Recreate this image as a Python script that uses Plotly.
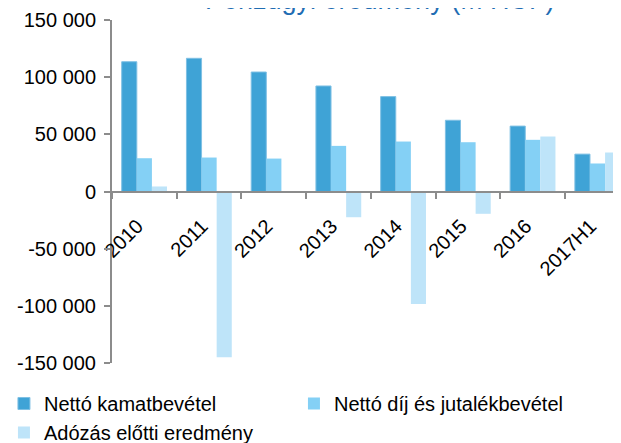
import plotly.graph_objects as go

# data (M HUF)
evek = ['2010', '2011', '2012', '2013', '2014', '2015', '2016', '2017H1']
kamatbevetel = [113500, 116500, 104500, 92300, 83000, 62300, 57200, 32700]
dijbevetel = [29100, 29700, 28800, 39900, 43700, 43100, 45200, 24500]
adozas_elotti = [4400, -145000, -1100, -22500, -98500, -19500, 48100, 34100]

y_ertekek = [-150000, -100000, -50000, 0, 50000, 100000, 150000]
y_cimkek = ['-150 000', '-100 000', '-50 000', '0', '50 000', '100 000', '150 000']

cim = 'Pénzügyi eredmény (M HUF)'
betu = 'Liberation Sans, Arial, sans-serif'

fig = go.Figure()
fig.add_bar(x=evek, y=kamatbevetel, name='Nettó kamatbevétel',
            marker=dict(color='#3FA3D6', line=dict(color='#7FC0E4', width=1)))
fig.add_bar(x=evek, y=dijbevetel, name='Nettó díj és jutalékbevétel',
            marker=dict(color='#84D0F5', line=dict(width=0)))
fig.add_bar(x=evek, y=adozas_elotti, name='Adózás előtti eredmény',
            marker=dict(color='#BEE4F9', line=dict(width=0)))

# the page has an 8px body margin, margins below take that into account
fig.update_layout(
    width=621, height=443,
    margin=dict(l=104, r=0, t=12, b=88, autoexpand=False),
    paper_bgcolor='white', plot_bgcolor='white',
    barmode='group', bargap=0.3, bargroupgap=0,
    font=dict(family=betu, size=20, color='black'),
    legend=dict(orientation='h', x=-0.209, xanchor='left', y=-0.0612, yanchor='top',
                entrywidth=245, entrywidthmode='pixels', itemwidth=30,
                font=dict(size=20), tracegroupgap=0, traceorder='normal'),
    showlegend=True,
)
# title sits mostly above the top edge, like in the original
fig.add_annotation(text=cim, xref='paper', yref='paper', x=0.518, y=1.0,
                   xanchor='center', yanchor='middle', yshift=20, showarrow=False,
                   font=dict(family=betu, size=27, color='#1F6DB3'))
fig.update_xaxes(
    anchor='free', position=0.5, range=[-0.5, 7.486],
    showline=True, linecolor='#8C8C8C', linewidth=2,
    ticks='outside', tickson='boundaries', ticklen=6, tickcolor='#8C8C8C', tickwidth=2,
    tickangle=-45, ticklabelstandoff=14, ticklabelshift=-7,
    showgrid=False, automargin=False,
)
fig.update_yaxes(
    range=[-150000, 150000], tickvals=y_ertekek, ticktext=y_cimkek,
    showline=True, linecolor='#8C8C8C', linewidth=2,
    ticks='outside', ticklen=6, tickcolor='#8C8C8C', tickwidth=2,
    ticklabelstandoff=4, showgrid=False, zeroline=False, automargin=False,
)

fig.write_html('out.html')
